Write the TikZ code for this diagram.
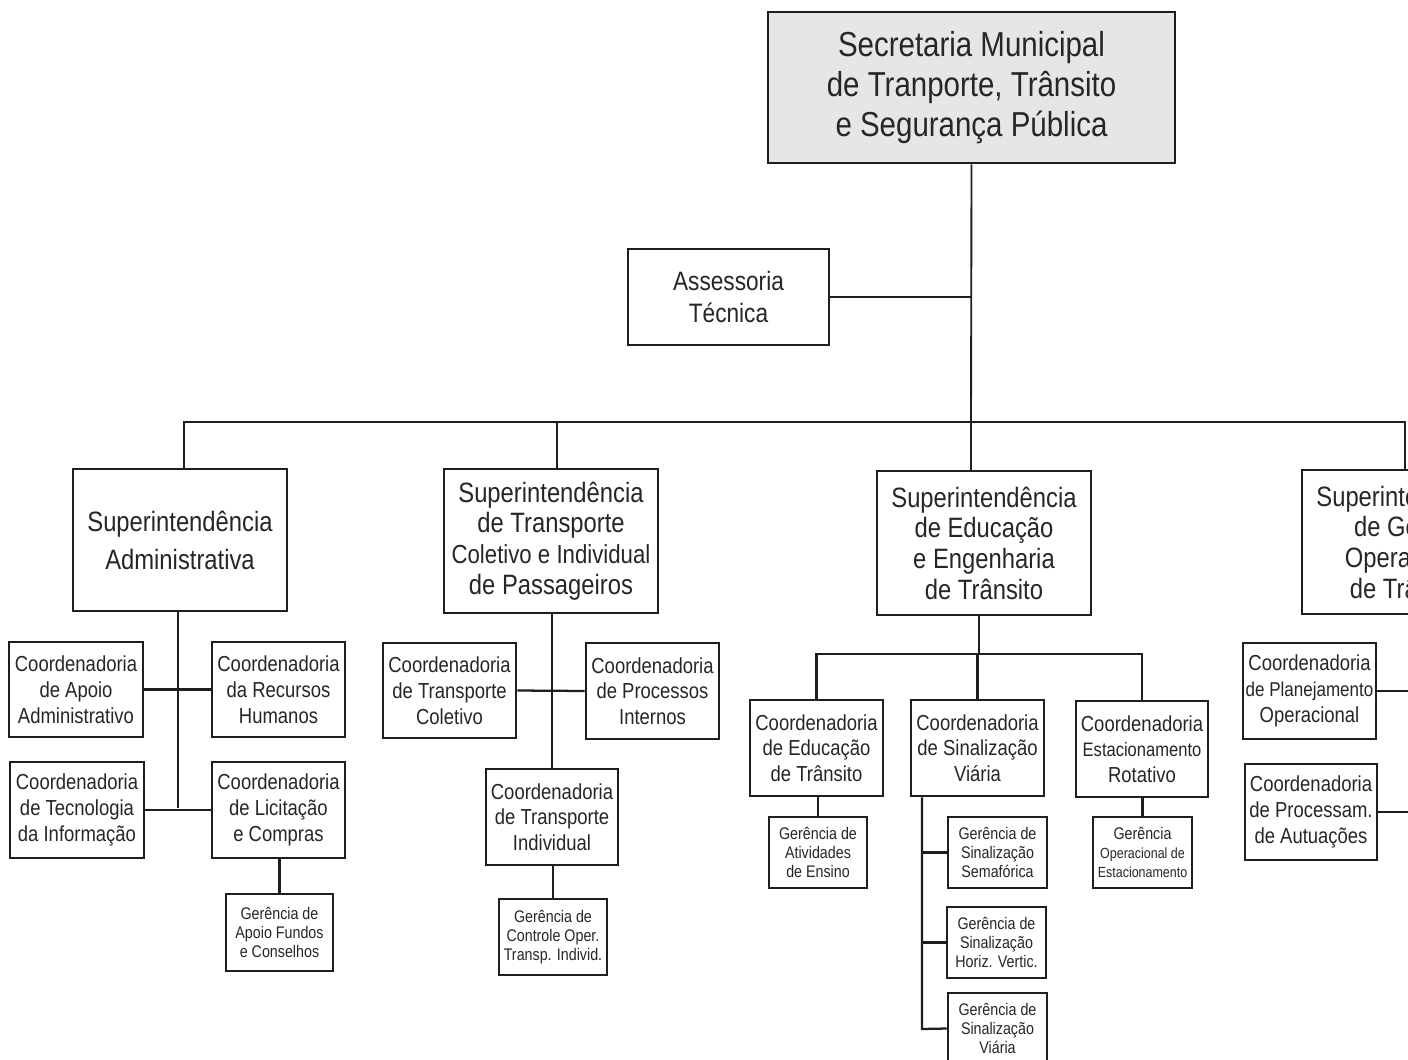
\documentclass[tikz,border=0pt]{standalone}
\usepackage{fontspec}
\setmainfont{Liberation Sans}[FakeStretch=0.85]
\definecolor{linec}{HTML}{1E1E1E}
\definecolor{textc}{HTML}{262626}
\definecolor{topfill}{HTML}{E6E6E6}
\newcommand\ftop{\fontsize{26}{30}\selectfont}
\newcommand\fass{\fontsize{20}{23.3}\selectfont}
\newcommand\fsupa{\fontsize{21}{28.5}\selectfont}
\newcommand\fsupb{\fontsize{21}{23}\selectfont}
\newcommand\fcoord{\fontsize{16.3}{19.3}\selectfont}
\newcommand\fger{\fontsize{12.6}{14.3}\selectfont}
\tikzset{
  box/.style={draw=linec, line width=1.9pt, fill=white, inner sep=0pt, align=center, text=textc},
  wh/.style 2 args={minimum width=#1*0.75pt, minimum height=#2*0.75pt},
  conn/.style={draw=linec, line width=1.7pt},
  thinconn/.style={draw=linec, line width=1.4pt},
}
\begin{document}
\begin{tikzpicture}[x=0.75pt,y=-0.75pt]
\path[use as bounding box] (0,0) rectangle (1408,1059);
\clip (0,0) rectangle (1408,1059);
\fill[white] (0,0) rectangle (1408,1059);

% top level
\node[box, fill=topfill, wh={407}{151}, font=\ftop] (top) at (971.5,87.5)
  {Secretaria Municipal\\de Tranporte, Trânsito\\e Segurança Pública};
\node[box, wh={201}{96}, font=\fass] (asses) at (728.5,297) {Assessoria\\Técnica};

% superintendencias
\node[box, wh={214}{142}, font=\fsupa] (supadm) at (180,540) {Superintendência\\Administrativa};
\node[box, wh={214}{144}, font=\fsupb] (suptrans) at (551,541)
  {Superintendência\\de Transporte\\{\fontsize{19.6}{23}\selectfont Coletivo e Individual}\\de Passageiros};
\node[box, wh={214}{144}, font=\fsupb] (supedu) at (984,543)
  {Superintendência\\de Educação\\e Engenharia\\de Trânsito};
\node[box, wh={214}{144}, font=\fsupb] (supgo) at (1409,542)
  {Superintendência\\de Gestão\\Operacional\\de Trânsito};

% administrativa
\node[box, wh={134}{95}, font=\fcoord] (apoio) at (76,689.5) {Coordenadoria\\de Apoio\\Administrativo};
\node[box, wh={133}{95}, font=\fcoord] (rh) at (278.5,689.5) {Coordenadoria\\da Recursos\\Humanos};
\node[box, wh={134}{96}, font=\fcoord] (ti) at (77,810) {Coordenadoria\\de Tecnologia\\da Informação};
\node[box, wh={133}{96}, font=\fcoord] (lic) at (278.5,810) {Coordenadoria\\de Licitação\\e Compras};
\node[box, wh={107}{77}, font=\fger] (gfundos) at (279.5,932.5) {Gerência de\\Apoio Fundos\\e Conselhos};

% transporte
\node[box, wh={133}{95}, font=\fcoord] (tcol) at (449.5,690.5) {Coordenadoria\\de Transporte\\Coletivo};
\node[box, wh={133}{96}, font=\fcoord] (pint) at (652.5,691) {Coordenadoria\\de Processos\\Internos};
\node[box, wh={132}{96}, font=\fcoord] (tind) at (552,817) {Coordenadoria\\de Transporte\\Individual};
\node[box, wh={108}{76}, font=\fger] (gcont) at (553,937) {Gerência de\\Controle Oper.\\Transp. Individ.};

% educacao
\node[box, wh={133}{96}, font=\fcoord] (cedu) at (816.5,748) {Coordenadoria\\de Educação\\de Trânsito};
\node[box, wh={133}{96}, font=\fcoord] (csin) at (977.5,748) {Coordenadoria\\de Sinalização\\Viária};
\node[box, wh={132}{96}, font=\fcoord] (cest) at (1142,749)
  {Coordenadoria\\{\fontsize{14.6}{19.3}\selectfont Estacionamento}\\Rotativo};
\node[box, wh={98}{71}, font=\fger] (gens) at (818,852.5) {Gerência de\\Atividades\\de Ensino};
\node[box, wh={99}{71}, font=\fger] (gsem) at (997.5,852.5) {Gerência de\\Sinalização\\Semafórica};
\node[box, wh={99}{71}, font=\fger] (ghv) at (996.5,942.5) {Gerência de\\Sinalização\\Horiz. Vertic.};
\node[box, wh={99}{71}, font=\fger] (gsv) at (997.5,1028.5) {Gerência de\\Sinalização\\Viária};
\node[box, wh={99}{71}, font=\fger] (gest) at (1142.5,852.5)
  {Gerência\\{\fontsize{11}{13.5}\selectfont Operacional de}\\{\fontsize{11}{13.5}\selectfont Estacionamento}};

% gestao operacional
\node[box, wh={133}{96}, font=\fcoord] (cplan) at (1309.5,691)
  {Coordenadoria\\{\fontsize{15}{19.3}\selectfont de Planejamento}\\Operacional};
\node[box, wh={132}{96}, font=\fcoord] (cproc) at (1311,812) {Coordenadoria\\de Processam.\\de Autuações};

% coordinates for connectors
\coordinate (m) at (971,422);
\coordinate (bL) at (184,422);
\coordinate (b2) at (557,422);
\coordinate (bR) at (1405,422);
\coordinate (av) at (178,808);
\coordinate (eh) at (979,654);
\coordinate (sv) at (922,1029);
\coordinate (sg) at (1411,812);

% connectors top
\draw[thinconn] (top.south) -- (m);
\draw[thinconn] (asses.east) -- (asses.east -| m);
\draw[conn] (bL |- supadm.north) -- (bL) -- (bR) -- (bR |- supgo.north);
\draw[conn] (b2) -- (b2 |- suptrans.north);
\draw[conn] (m) -- (m |- supedu.north);

% administrativa
\draw[conn] (av |- supadm.south) -- (av);
\draw[conn] (apoio.east) -- (rh.west);
\draw[conn] (ti.east) -- (lic.west);
\draw[conn] (gfundos.north |- lic.south) -- (gfundos.north);

% transporte
\draw[conn] (tind.north |- suptrans.south) -- (tind.north);
\draw[conn] (tcol.east) -- (pint.west);
\draw[conn] (gcont.north |- tind.south) -- (gcont.north);

% educacao
\draw[conn] (eh |- supedu.south) -- (eh);
\draw[conn] (cedu.north) -- (cedu.north |- eh) -- (cest.north |- eh) -- (cest.north);
\draw[conn] (csin.north) -- (csin.north |- eh);
\draw[conn] (gens.north |- cedu.south) -- (gens.north);
\draw[conn] (sv |- csin.south) -- (sv) -- (gsv.west);
\draw[conn] (sv |- gsem.west) -- (gsem.west);
\draw[conn] (sv |- ghv.west) -- (ghv.west);
\draw[conn] (gest.north |- cest.south) -- (gest.north);

% gestao operacional
\draw[conn] (sg |- supgo.south) -- (sg);
\draw[conn] (cplan.east) -- (cplan.east -| sg);
\draw[conn] (cproc.east) -- (cproc.east -| sg);
\end{tikzpicture}
\end{document}
